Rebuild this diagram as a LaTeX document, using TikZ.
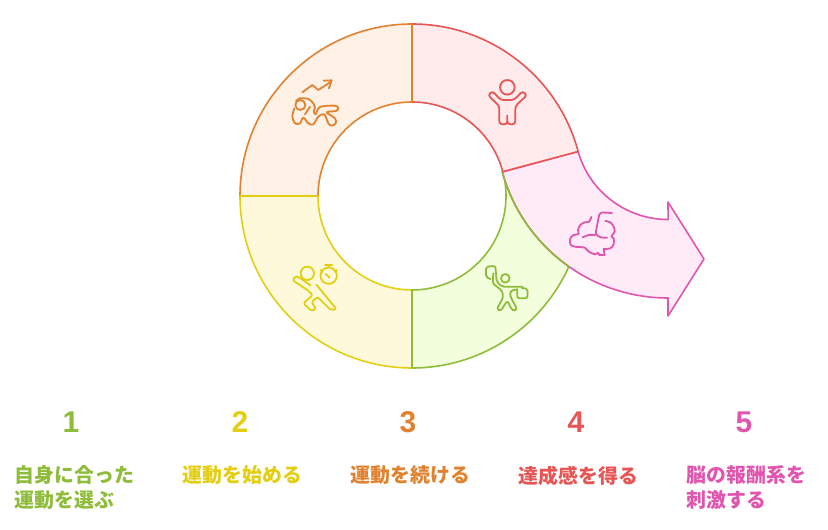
\documentclass[tikz,border=0pt]{standalone}
\usepackage{fontspec}
\newfontfamily\cjk{Noto Sans CJK JP}
\newfontfamily\numfont{Liberation Sans}
\definecolor{cgreen}{HTML}{8FBC3A}\definecolor{fgreen}{HTML}{F2FEDC}
\definecolor{cyellow}{HTML}{E3CE14}\definecolor{fyellow}{HTML}{FFF9DB}
\definecolor{corange}{HTML}{E0822F}\definecolor{forange}{HTML}{FFF1E5}
\definecolor{cred}{HTML}{E85555}\definecolor{fred}{HTML}{FFEBEB}
\definecolor{cpink}{HTML}{E056AE}\definecolor{fpink}{HTML}{FFEAF8}
\tikzset{
  seg/.style={line width=1.6pt,line join=round,line cap=round},
  icon/.style={line width=1.8pt,line join=round,line cap=round},
  numlabel/.style={inner sep=0pt,font=\numfont\bfseries\fontsize{30}{30}\selectfont},
  steplabel/.style={inner sep=0pt,anchor=north west,align=left,font=\cjk\bfseries\fontsize{19.9}{25}\selectfont},
}
\begin{document}
\begin{tikzpicture}[x=1pt,y=1pt]
\useasboundingbox (0,0) rectangle (828,530);
\coordinate (c) at (412,334);
\coordinate (p) at (668,404);
% green segment
\draw[seg,draw=cgreen,fill=fgreen] ([shift={(270:172)}]c) arc[start angle=270,end angle=335.8,radius=172pt]
  arc[start angle=234.8,end angle=195.5,radius=172pt] -- ([shift={(15:94)}]c)
  arc[start angle=15,end angle=-90,radius=94pt] -- cycle;
% pink arrow
\draw[seg,draw=cpink,fill=fpink] ([shift={(15:172)}]c) arc[start angle=195.8,end angle=270,radius=93.5pt]
  -- (668,328) -- (704,271) -- (668,214) -- (668,232)
  arc[start angle=270,end angle=195.5,radius=172pt] -- cycle;
% shared edge of the green segment and the arrow
\coordinate (j) at (568.9,263.5);
\draw[seg,draw=cgreen] (j) arc[start angle=234.8,end angle=195.5,radius=172pt] -- ([shift={(15:94)}]c);
% red segment
\draw[seg,draw=cred,fill=fred] ([shift={(90:172)}]c) arc[start angle=90,end angle=15,radius=172pt]
  -- ([shift={(15:94)}]c) arc[start angle=15,end angle=90,radius=94pt] -- cycle;
% orange segment
\draw[seg,draw=corange,fill=forange] ([shift={(90:172)}]c) arc[start angle=90,end angle=180,radius=172pt]
  -- ([shift={(180:94)}]c) arc[start angle=180,end angle=90,radius=94pt] -- cycle;
% yellow segment
\draw[seg,draw=cyellow,fill=fyellow] ([shift={(180:172)}]c) arc[start angle=180,end angle=270,radius=172pt]
  -- ([shift={(270:94)}]c) arc[start angle=270,end angle=180,radius=94pt] -- cycle;
\draw[seg,draw=cgreen] ([shift={(270:172)}]c) -- ([shift={(270:94)}]c);
% orange icon
\begin{scope}[shift={(285,455)},x=0.3333pt,y=-0.3333pt,icon,draw=corange]
  \draw (52,52) -- (82,30) -- (100,45) -- (138,20);
  \draw (116,17) -- (140,16) -- (132,40);
  \draw (46,90) circle[radius=5pt];
  \draw plot[smooth,tension=0.55] coordinates {(33,78) (45,70) (70,72) (85,85) (90,100) (86,108) (92,118) (105,96) (150,92) (160,100) (153,108) (125,112) (150,130) (152,145) (140,152) (130,145) (118,118) (100,125) (85,148) (70,145) (55,128) (45,145) (30,145) (22,125) (28,100)};
  \draw (60,118) -- (75,95);
\end{scope}
% red icon
\begin{scope}[shift={(480,458)},x=0.3333pt,y=-0.3333pt,icon,draw=cred]
  \draw (82,46) circle[radius=7.3pt];
  \draw[rounded corners=3pt] (62,84) -- (37,57) -- (24,70) -- (58,102) -- (58,157) -- (82,157) -- (82,125) -- (82,157) -- (106,157) -- (106,102) -- (141,70) -- (128,57) -- (102,84) -- cycle;
\end{scope}
% pink icon
\begin{scope}[shift={(562,325)},x=0.3333pt,y=-0.3333pt,icon,draw=cpink]
  \draw plot[smooth,tension=0.5] coordinates {(88,36) (82,50) (68,52) (55,60) (48,75) (50,87) (35,90) (25,100) (25,118) (38,125) (68,128) (80,140) (100,148) (108,143)};
  \draw (108,143) -- (112,150) -- (128,150) -- (125,132);
  \draw plot[smooth,tension=0.5] coordinates {(125,132) (145,130) (155,118) (155,100) (148,95) (158,80) (155,65) (145,52) (130,48)};
  \draw[rounded corners=3pt] (150,24) -- (113,22) -- (100,88) -- (115,98) -- (135,98);
  \draw plot[smooth] coordinates {(62,97) (80,90) (100,90)};
\end{scope}
% green icon
\begin{scope}[shift={(480,270)},x=0.3333pt,y=-0.3333pt,icon,draw=cgreen]
  \draw (76,55) circle[radius=4.3pt];
  \draw[rounded corners=2pt] (32,57) -- (18,52) -- (18,20) -- (46,18) -- (48,40) -- (50,65) -- (66,80) -- (128,80);
  \draw[rounded corners=2.5pt] (40,40) -- (38,70) -- (66,92) -- (70,112) -- (50,148) -- (62,153) -- (82,122) -- (98,153) -- (112,148) -- (90,108) -- (92,92) -- (112,88);
  \draw[rounded corners=2pt] (112,88) -- (112,115) -- (142,115) -- (143,86) -- (125,84);
\end{scope}
% yellow icon
\begin{scope}[shift={(288,270)},x=0.3333pt,y=-0.3333pt,icon,draw=cyellow]
  \draw (58,40) circle[radius=6.7pt];
  \draw (122,47) circle[radius=8.2pt];
  \draw (111,15) -- (133,15) (122,15) -- (122,22) (98,30) -- (104,36) (147,30) -- (141,36) (113,42) -- (125,53);
  \draw[rounded corners=2.5pt] (68,76) -- (25,47) -- (13,60) -- (58,90) -- (75,105) -- (46,130) -- (72,154) -- (85,145) -- (70,128) -- (88,110) -- (128,150) -- (146,148) -- (85,74);
\end{scope}
% labels
\node[numlabel,text=cgreen] (n1) at (71,108) {1};
\node[numlabel,text=cyellow] (n2) at (240,108) {2};
\node[numlabel,text=corange] (n3) at (408,108) {3};
\node[numlabel,text=cred] (n4) at (576,108) {4};
\node[numlabel,text=cpink] (n5) at (744,108) {5};
\node[steplabel,text=cgreen] (t1) at (14.5,64.5) {自身に合った\\運動を選ぶ};
\node[steplabel,text=cyellow] (t2) at (182.5,64.5) {運動を始める};
\node[steplabel,text=corange] (t3) at (350.5,64.5) {運動を続ける};
\node[steplabel,text=cred] (t4) at (518.5,64.5) {達成感を得る};
\node[steplabel,text=cpink] (t5) at (686.5,64.5) {脳の報酬系を\\刺激する};
\end{tikzpicture}
\end{document}
